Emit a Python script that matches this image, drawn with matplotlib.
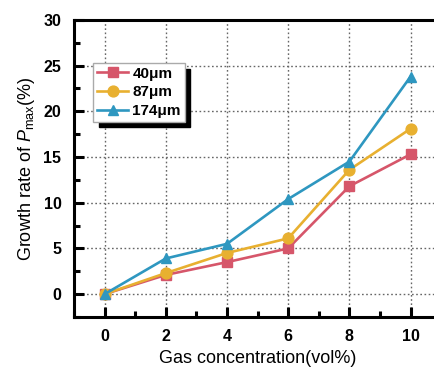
import numpy as np
import matplotlib
matplotlib.use('Agg')
import matplotlib.pyplot as plt
from matplotlib.ticker import MultipleLocator

plt.rcParams['font.family'] = 'Liberation Sans'
plt.rcParams['mathtext.fontset'] = 'custom'
plt.rcParams['mathtext.rm'] = 'Liberation Sans'
plt.rcParams['mathtext.it'] = 'Liberation Sans:italic'

conc = [0, 2, 4, 6, 8, 10]
labels = ['40\u03bcm', '87\u03bcm', '174\u03bcm']
s40 = [0, 2.1, 3.5, 5.0, 11.8, 15.3]
s87 = [0, 2.3, 4.5, 6.1, 13.6, 18.1]
s174 = [0, 3.9, 5.5, 10.4, 14.5, 23.8]

colors = ['#d6566a', '#e8b030', '#2e97c0']
markers = ['s', 'o', '^']

fig = plt.figure(figsize=(4.34, 3.69), dpi=100)
ax = fig.add_axes([0.1705, 0.141, 0.846, 0.805])

for y, lab, c, m in zip([s40, s87, s174], labels, colors, markers):
    ax.plot(conc, y, color=c, marker=m, markersize=7.8, lw=1.9, label=lab)

ax.set_xlim(-1, 11)
ax.set_ylim(-2.5, 30)
ax.xaxis.set_major_locator(MultipleLocator(2))
ax.xaxis.set_minor_locator(MultipleLocator(1))
ax.yaxis.set_major_locator(MultipleLocator(5))
ax.yaxis.set_minor_locator(MultipleLocator(2.5))
ax.grid(True, which='major', color='#666666', linestyle=(0, (1.2, 1.8)), lw=1.0)
ax.set_axisbelow(True)

for sp in ax.spines.values():
    sp.set_linewidth(2.2)
ax.tick_params(which='major', direction='in', length=7, width=2.2, pad=9,
               labelsize=11.5)
ax.tick_params(which='minor', direction='in', length=4, width=2.2)
for t in ax.get_xticklabels() + ax.get_yticklabels():
    t.set_fontweight('bold')

ax.set_xlabel('Gas concentration(vol%)', fontsize=13, labelpad=4)
ax.set_ylabel(r'Growth rate of $\mathit{P}_{\mathrm{max}}$(%)', fontsize=13, labelpad=5)

leg = ax.legend(loc='upper left', bbox_to_anchor=(0.053, 0.855), borderaxespad=0,
                fancybox=False, edgecolor='#aaaaaa', framealpha=1,
                shadow={'color': 'k', 'alpha': 1, 'ox': 4, 'oy': -4},
                prop={'weight': 'bold', 'size': 11}, handlelength=2.0,
                labelspacing=0.3, handletextpad=0.3, borderpad=0.25)
leg.get_frame().set_linewidth(1.0)

fig.savefig('out.png', dpi=100)
